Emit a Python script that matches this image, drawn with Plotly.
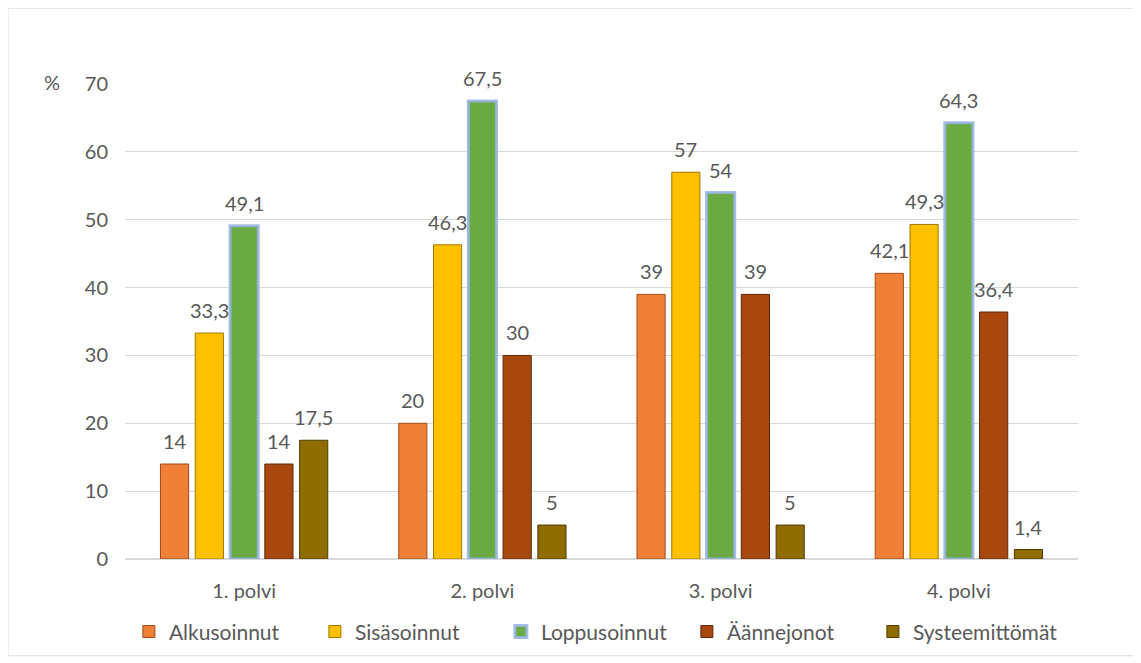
import plotly.graph_objects as go

categories = ["1. polvi", "2. polvi", "3. polvi", "4. polvi"]
series_names = ["Alkusoinnut", "Sisäsoinnut", "Loppusoinnut", "Äännejonot", "Systeemittömät"]
alkusoinnut = [14, 20, 39, 42.1]
sisasoinnut = [33.3, 46.3, 57, 49.3]
loppusoinnut = [49.1, 67.5, 54, 64.3]
aannejonot = [14, 30, 39, 36.4]
systeemittomat = [17.5, 5, 5, 1.4]
values = [alkusoinnut, sisasoinnut, loppusoinnut, aannejonot, systeemittomat]
colors = ["#F07F38", "#FFC000", "#6AAA42", "#A8480F", "#8F6C00"]
edges = ["#A04D18", "#A07800", "#3B6A22", "#5E2808", "#4F3C00"]
y_ticks = [0, 10, 20, 30, 40, 50, 60, 70]

FONT = "Lato"
TXT = "#595959"

W, H = 1133, 655
L, R, T, B = 117, 63, 76, 103
BARGAP, GROUPGAP = 0.27, 0.19


def fmt(v):
    return ("%g" % v).replace(".", ",")


fig = go.Figure()
for name, vals, c, e in zip(series_names, values, colors, edges):
    is_green = name == "Loppusoinnut"
    fig.add_trace(go.Bar(
        x=categories, y=vals, name=name,
        marker=dict(color=c,
                    line=dict(color="rgba(150,180,230,0.85)" if is_green else e,
                              width=3 if is_green else 1)),
        hoverinfo="x+y",
    ))

# value labels above bars, offset per series within the group
plot_w = W - L - R
slot = plot_w / len(categories) * (1 - BARGAP) / len(series_names)
n = len(series_names)
for i, vals in enumerate(values):
    for cat, v in zip(categories, vals):
        fig.add_annotation(x=cat, y=v, text=fmt(v), showarrow=False,
                           xshift=(i - (n - 1) / 2) * slot, yanchor="bottom", yshift=9,
                           font=dict(family=FONT, size=20, color=TXT))

fig.update_layout(
    barmode="group", bargap=BARGAP, bargroupgap=GROUPGAP,
    width=W, height=H,
    margin=dict(l=L, r=R, t=T, b=B),
    paper_bgcolor="white", plot_bgcolor="white",
    font=dict(family=FONT, size=20, color=TXT),
    legend=dict(orientation="h", x=0.492, xanchor="center", y=-0.151, yanchor="middle",
                font=dict(family=FONT, size=21, color=TXT),
                entrywidth=141, entrywidthmode="pixels",
                traceorder="normal"),
    showlegend=True,
)
fig.update_xaxes(showline=True, linecolor="#D9D9D9", linewidth=1,
                 tickfont=dict(family=FONT, size=20, color=TXT), ticks="",
                 ticklabelstandoff=14)
fig.update_yaxes(range=[0, 70], tickvals=y_ticks, showgrid=True, gridcolor="#D9D9D9",
                 zeroline=True, zerolinecolor="#D9D9D9", showline=False,
                 tickfont=dict(family=FONT, size=20, color=TXT), ticks="",
                 ticklabelstandoff=16)
fig.add_annotation(text="%", xref="paper", yref="y", x=-0.0766, y=70, yshift=2, showarrow=False,
                   font=dict(family=FONT, size=20, color=TXT), xanchor="center", yanchor="middle")
fig.add_shape(type="rect", xref="paper", yref="paper", x0=-0.1228, x1=1.0598, y0=-0.2038, y1=1.1597,
              line=dict(color="#D9D9D9", width=1), fillcolor="rgba(0,0,0,0)", layer="below")

fig.write_html("out.html")
